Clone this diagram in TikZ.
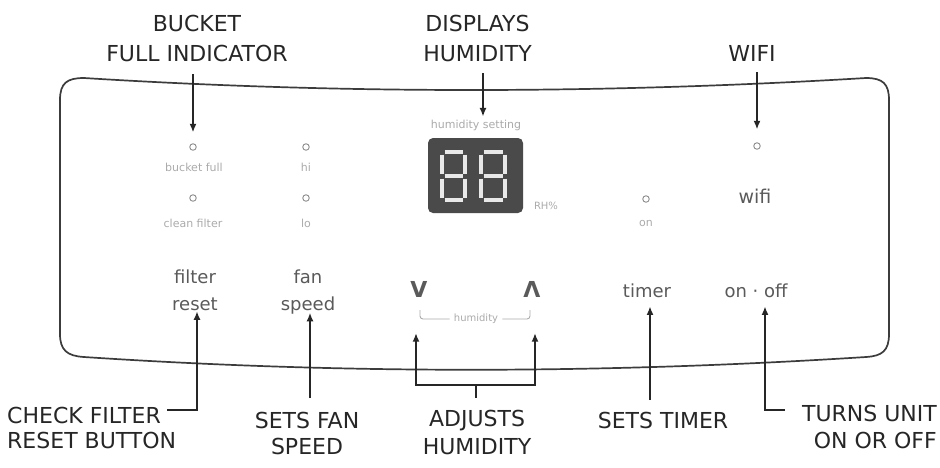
\documentclass[tikz,border=0pt]{standalone}
\usepackage{fontspec}
\setmainfont{DejaVu Sans}
\usetikzlibrary{arrows.meta,calc}
\definecolor{ink}{HTML}{262626}
\definecolor{paneltxt}{HTML}{5A5A5A}
\definecolor{faint}{HTML}{ABABAB}
\definecolor{ledc}{HTML}{8C8C8C}
\definecolor{dispc}{HTML}{4A4A4A}
\definecolor{segc}{HTML}{E8E8E8}
\begin{document}
\begin{tikzpicture}[x=1pt,y=-1pt,
  callout/.style={font=\fontsize{22}{30}\selectfont, text=ink, inner sep=0pt, align=center},
  btn/.style={font=\fontsize{18}{27}\selectfont, text=paneltxt, inner sep=0pt, align=center},
  keyglyph/.style={font=\bfseries\fontsize{22}{24}\selectfont, text=paneltxt, inner sep=0pt},
  tiny/.style={font=\fontsize{11}{13}\selectfont, text=faint, inner sep=0pt},
  led/.style={circle, draw=ledc, line width=0.9pt, minimum size=6.5pt, inner sep=0pt},
  arr/.style={draw=ink, line width=1.5pt, -{Latex[length=8.5pt,width=7pt]}},
  conn/.style={draw=ink, line width=1.5pt},
  panel/.style={draw=ink!90, line width=1.7pt},
  hook/.style={draw=faint, line width=0.9pt},
  segline/.style={draw=segc, line width=3.8pt}
]
\fill[white] (0,0) rectangle (940,467);
\useasboundingbox (0,0) rectangle (940,467);

% panel outline
\draw[panel] (60,100) .. controls (60,83) and (67,78) .. (84,78)
  .. controls (340,94) and (600,94) .. (866,78)
  .. controls (883,78) and (889,84) .. (889,100)
  -- (889,334)
  .. controls (889,351) and (882,356) .. (866,357)
  .. controls (600,374) and (340,374) .. (84,357)
  .. controls (67,356) and (60,350) .. (60,334)
  -- cycle;

% LEDs
\node[led] (bfled) at (193,147) {};
\node[led] (cfled) at (193,198) {};
\node[led] (hiled) at (306,147) {};
\node[led] (loled) at (306,198) {};
\node[led] (onled) at (646,199) {};
\node[led] (wfled) at (757,146) {};

% small panel labels
\node[tiny] (bflbl) at (194,167) {bucket full};
\node[tiny] (cflbl) at (193,223) {clean filter};
\node[tiny] (hilbl) at (306,167) {hi};
\node[tiny] (lolbl) at (306,223) {lo};
\node[tiny] (onlbl) at (646,223) {on};
\node[tiny] (hslbl) at (476,125) {humidity setting};
\node[tiny, font=\fontsize{10}{12}\selectfont] (rhlbl) at (546,206) {RH\%};

% display
\node[fill=dispc, rounded corners=5pt, minimum width=95pt, minimum height=75pt, inner sep=0pt] (display) at (475.5,175.5) {};
\foreach \xa/\xb in {442/465, 481/505} {
  \draw[segline] (\xa+2.5,152) -- (\xb-2.5,152);
  \draw[segline] (\xa+2.5,176) -- (\xb-2.5,176);
  \draw[segline] (\xa+2.5,200) -- (\xb-2.5,200);
  \draw[segline] (\xa,154.5) -- (\xa,173.5);
  \draw[segline] (\xa,178.5) -- (\xa,197.5);
  \draw[segline] (\xb,154.5) -- (\xb,173.5);
  \draw[segline] (\xb,178.5) -- (\xb,197.5);
}

% buttons
\node[btn, anchor=north] (freset) at (195,270) {filter\\reset};
\node[btn, anchor=north] (fspeed) at (308,270) {fan\\speed};
\node[btn, anchor=base] (timer) at (647,297) {timer};
\node[btn, anchor=base] (onoff) at (756,297) {on · off};
\node[btn, font=\fontsize{19}{22}\selectfont, anchor=base] (wifitxt) at (755,203) {wifi};
\node[keyglyph, anchor=base] (vkey) at (419,297) {V};
\node[keyglyph, anchor=base] (upkey) at (532,297) {Λ};
\node[tiny, font=\fontsize{10}{12}\selectfont, inner xsep=4pt] (humtxt) at (476,319) {humidity};
\draw[hook, rounded corners=3pt] (humtxt.west) -| ($(vkey.south)+(1,13)$);
\draw[hook, rounded corners=3pt] (humtxt.east) -| ($(upkey.south)+(-2,13)$);

% top callouts
\node[callout, anchor=north] (bucket) at (197,15) {BUCKET\\FULL INDICATOR};
\node[callout, anchor=north] (disph) at (477.5,15) {DISPLAYS\\HUMIDITY};
\node[callout, anchor=north] (wifi) at (752,45) {WIFI};

\draw[arr, shorten <=12pt, shorten >=11pt] (bucket.south -| bfled) -- (bfled.north);
\draw[arr, shorten <=11pt, shorten >=3pt] ($(disph.south)+(5.5,0)$) -- ($(disph.south |- hslbl.north)+(5.5,0)$);
\draw[arr, shorten <=11pt, shorten >=13pt] (wifi.south -| wfled) -- (wfled.north);

% bottom callouts
\node[callout, font=\fontsize{22}{25}\selectfont, align=left, anchor=north west] (chk) at (7,407) {CHECK FILTER\\RESET BUTTON};
\node[callout, font=\fontsize{22}{26}\selectfont, anchor=north] (sfan) at (307,412) {SETS FAN\\SPEED};
\node[callout, font=\fontsize{22}{28}\selectfont, anchor=north] (adj) at (477,410) {ADJUSTS\\HUMIDITY};
\node[callout, anchor=north] (stimer) at (663,412) {SETS TIMER};
\node[callout, font=\fontsize{22}{27}\selectfont, align=right, anchor=north east] (turn) at (937,405) {TURNS UNIT\\ON OR OFF};

\coordinate (chkend) at (167,410);
\draw[arr] (chkend) -| ($(freset.south)+(2,0)$);
\draw[arr, shorten <=14pt] ($(fspeed.south |- sfan.north)+(2,0)$) -- ($(fspeed.south)+(2,-2)$);
\draw[arr, shorten <=12pt, shorten >=9pt] ($(timer.south |- stimer.north)+(3,0)$) -- ($(timer.south)+(3,0)$);
\coordinate (turnend) at (785,410);
\draw[arr, shorten >=9pt] (turnend) -| ($(onoff.south)+(9,0)$);
\coordinate (brk) at (476,385);
\draw[conn, shorten >=12pt] (brk) -- (brk |- adj.north);
\draw[arr, shorten >=36pt] (brk) -| ($(vkey.south)+(-3,0)$);
\draw[arr, shorten >=36pt] (brk) -| ($(upkey.south)+(3,0)$);
\end{tikzpicture}
\end{document}
